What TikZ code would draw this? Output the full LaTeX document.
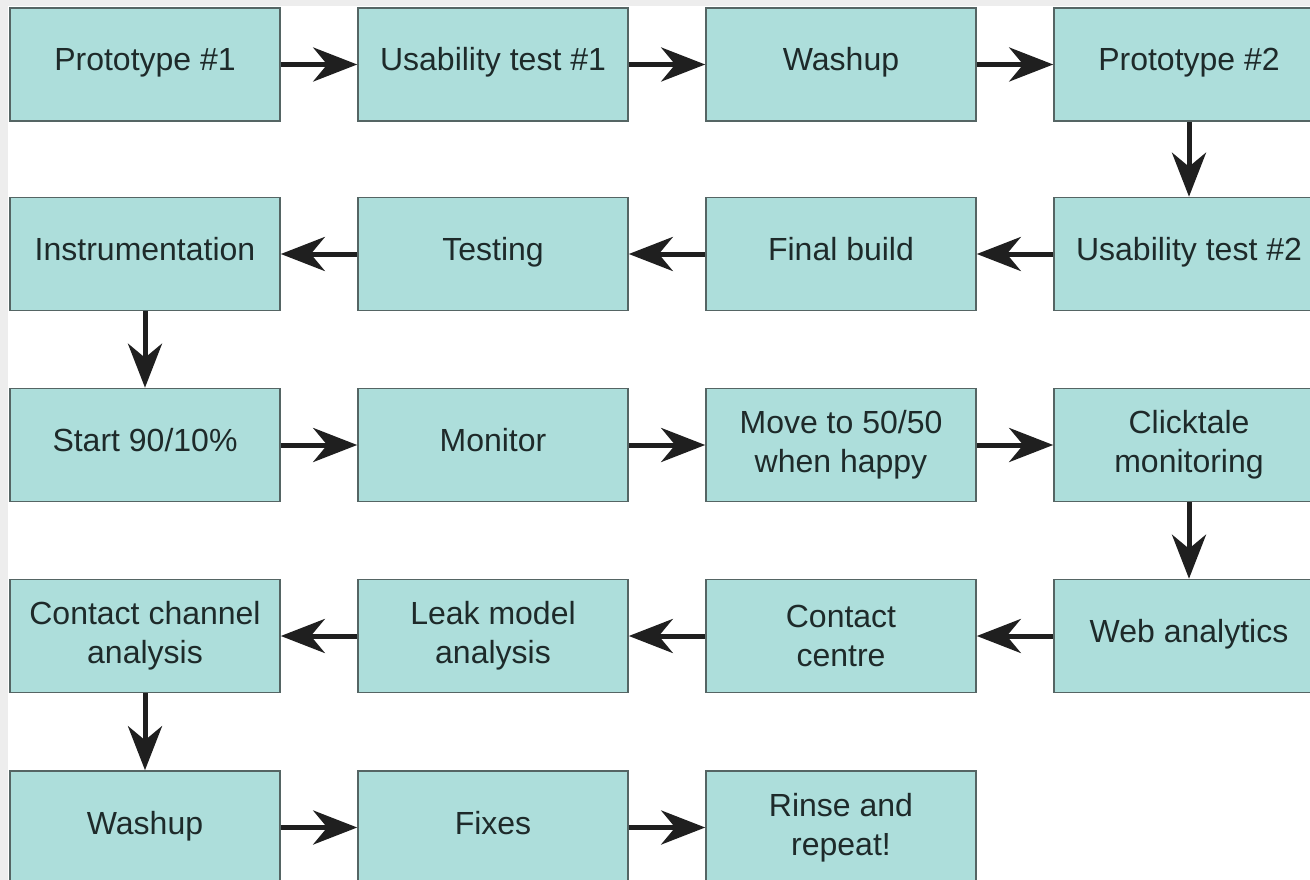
\documentclass[tikz,border=0pt]{standalone}
\usepackage{fontspec}
\setmainfont{Liberation Sans}
\usetikzlibrary{arrows.meta}
\definecolor{boxfill}{HTML}{ADDEDB}
\definecolor{boxedge}{HTML}{556564}
\definecolor{boxtext}{HTML}{1E2A2A}
\definecolor{arrowcol}{HTML}{1F1F1F}
\definecolor{framegray}{HTML}{EDEDED}
\tikzset{
  stage/.style={draw=boxedge, line width=1.6pt, fill=boxfill, text=boxtext,
    minimum width=270pt, minimum height=113pt, inner sep=0pt, align=center,
    font=\fontsize{32}{39}\selectfont},
  oneline/.style={stage, text height=22pt, text depth=9pt},
  flow/.style={draw=arrowcol, line width=5pt,
    -{Stealth[length=44pt, width=34pt, inset=14pt]}}
}
\begin{document}
\begin{tikzpicture}[x=1pt, y=-1pt]
  \useasboundingbox (0,0) rectangle (1310,880);
  \clip (0,0) rectangle (1310,880);
  \fill[white] (0,0) rectangle (1310,880);
  \fill[framegray] (0,0) rectangle (1310,6);
  \fill[framegray] (0,0) rectangle (8,880);

  % row 1
  \node[oneline] (p1) at (145,64.5) {Prototype \#1};
  \node[oneline] (u1) at (493,64.5) {Usability test \#1};
  \node[oneline] (w1) at (841,64.5) {Washup};
  \node[oneline] (p2) at (1189,64.5) {Prototype \#2};
  % row 2
  \node[oneline] (u2) at (1189,254) {Usability test \#2};
  \node[oneline] (fb) at (841,254) {Final build};
  \node[oneline] (te) at (493,254) {Testing};
  \node[oneline] (in) at (145,254) {Instrumentation};
  % row 3
  \node[oneline] (st) at (145,445) {Start 90/10\%};
  \node[oneline] (mo) at (493,445) {Monitor};
  \node[stage] (mv) at (841,445) {Move to 50/50\\when happy};
  \node[stage] (ct) at (1189,445) {Clicktale\\monitoring};
  % row 4
  \node[oneline] (wa) at (1189,636) {Web analytics};
  \node[stage] (cc) at (841,636) {Contact\\centre};
  \node[stage] (lm) at (493,636) {Leak model\\analysis};
  \node[stage] (ch) at (145,636) {Contact channel\\analysis};
  % row 5
  \node[oneline] (w2) at (145,827.5) {Washup};
  \node[oneline] (fx) at (493,827.5) {Fixes};
  \node[stage] (rr) at (841,827.5) {Rinse and\\repeat!};

  \draw[flow] (p1) -- (u1);
  \draw[flow] (u1) -- (w1);
  \draw[flow] (w1) -- (p2);
  \draw[flow] (p2) -- (u2);
  \draw[flow] (u2) -- (fb);
  \draw[flow] (fb) -- (te);
  \draw[flow] (te) -- (in);
  \draw[flow] (in) -- (st);
  \draw[flow] (st) -- (mo);
  \draw[flow] (mo) -- (mv);
  \draw[flow] (mv) -- (ct);
  \draw[flow] (ct) -- (wa);
  \draw[flow] (wa) -- (cc);
  \draw[flow] (cc) -- (lm);
  \draw[flow] (lm) -- (ch);
  \draw[flow] (ch) -- (w2);
  \draw[flow] (w2) -- (fx);
  \draw[flow] (fx) -- (rr);
\end{tikzpicture}
\end{document}
